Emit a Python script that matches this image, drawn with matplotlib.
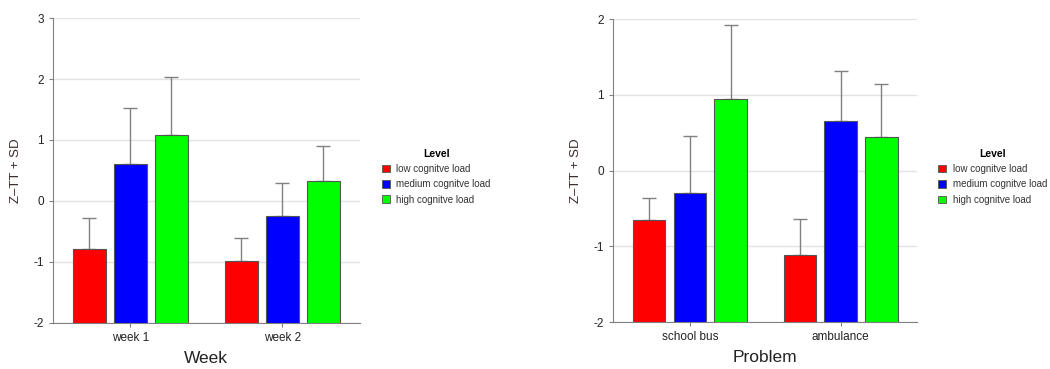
import numpy as np
import matplotlib.pyplot as plt
from matplotlib.patches import Patch

plt.rcParams['font.family'] = ['Liberation Sans', 'DejaVu Sans']
plt.rcParams['axes.unicode_minus'] = False

# Données
levels = ["low cognitve load", "medium cognitve load", "high cognitve load"]
colors = ["#ff0000", "#0000ff", "#00ff00"]

weeks = ["week 1", "week 2"]
week_mean = [[-0.78, -0.98], [0.61, -0.25], [1.08, 0.32]]
week_sd = [[0.50, 0.38], [0.91, 0.55], [0.95, 0.58]]

problems = ["school bus", "ambulance"]
prob_mean = [[-0.65, -1.11], [-0.30, 0.65], [0.95, 0.45]]
prob_sd = [[0.29, 0.47], [0.76, 0.67], [0.97, 0.69]]

GRAY = "#808080"


def draw_panel(ax, cats, means, sds, ylim, xlabel, leg_x):
    x = np.arange(len(cats))
    width = 0.215
    offset = 0.27
    for i in range(len(levels)):
        ax.bar(x + (i - 1) * offset, means[i], width, bottom=0,
               color=colors[i], edgecolor="#555555", linewidth=0.8, zorder=3)
        ax.errorbar(x + (i - 1) * offset, means[i],
                    yerr=[np.zeros(len(cats)), sds[i]], fmt="none",
                    ecolor=GRAY, elinewidth=1, capsize=4.8, capthick=1, zorder=2)
    # barres partant du bas de l'axe
    for p in ax.patches:
        h = p.get_y() + p.get_height()
        p.set_y(ylim[0])
        p.set_height(h - ylim[0])

    ax.set_xlim(-0.51, 1.51)
    ax.set_ylim(*ylim)
    ax.set_yticks(np.arange(ylim[0], ylim[1] + 1))
    ax.set_xticks(x)
    ax.set_xticklabels(cats)
    ax.yaxis.grid(True, color="#e3e3e3", linewidth=1, zorder=0)
    ax.set_axisbelow(True)
    for s in ["top", "right"]:
        ax.spines[s].set_visible(False)
    for s in ["left", "bottom"]:
        ax.spines[s].set_color(GRAY)
    ax.tick_params(axis="both", colors=GRAY, length=3, labelsize=8.5,
                   labelcolor="#222222")
    ax.set_ylabel("Z\u2013TT + SD", fontsize=9.5, color="#3a2a2a", labelpad=8)
    ax.set_xlabel(xlabel, fontsize=12.5, color="#222222", labelpad=5)

    handles = [Patch(facecolor=c, edgecolor="#555555", linewidth=0.6) for c in colors]
    leg = ax.legend(handles, levels, title="Level", loc="center left",
                    bbox_to_anchor=(leg_x, 0.48), frameon=False, fontsize=7,
                    title_fontproperties={"weight": "bold", "size": 7.5},
                    handlelength=0.8, handleheight=0.8, handletextpad=0.7,
                    labelspacing=0.55, labelcolor="#333333",
                    borderaxespad=0, borderpad=0.7)
    leg._legend_box.align = "center"


fig = plt.figure(figsize=(10.5, 3.69), dpi=100)
ax1 = fig.add_axes([0.0505, 0.125, 0.292, 0.826])
ax2 = fig.add_axes([0.5838, 0.127, 0.29, 0.821])

draw_panel(ax1, weeks, week_mean, week_sd, (-2, 3), "Week", 1.05)
draw_panel(ax2, problems, prob_mean, prob_sd, (-2, 2), "Problem", 1.045)

fig.savefig("out.png", dpi=100)
